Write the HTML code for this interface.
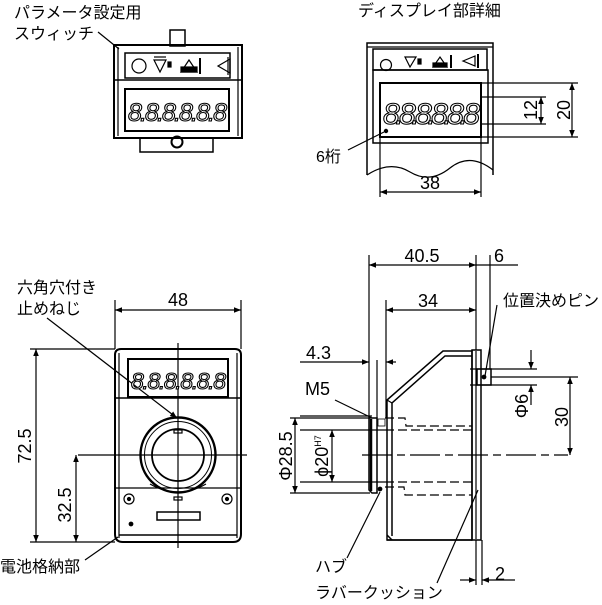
<!DOCTYPE html>
<html><head><meta charset="utf-8"><style>
html,body{margin:0;padding:0;background:#fff;}
svg{display:block;}
text{font-family:"Liberation Sans","Noto Sans CJK JP",sans-serif;fill:#000;}
.j{font-size:16px;}
.n{font-size:18px;}
.dg{font-size:25px;font-style:italic;font-family:"Liberation Sans",sans-serif;fill:#fff;stroke:#000;stroke-width:1.1;letter-spacing:-1px;}
</style></head><body>
<svg width="602" height="605" viewBox="0 0 602 605" xmlns="http://www.w3.org/2000/svg">
<defs>
<marker id="a" viewBox="0 0 10 10" refX="10" refY="5" markerWidth="9" markerHeight="7" orient="auto-start-reverse" markerUnits="userSpaceOnUse"><path d="M0,1 L10,5 L0,9 z" fill="#000"/></marker>
</defs>
<g fill="none" stroke="#000" stroke-width="1.2">

<!-- ===== Top-left view ===== -->
<rect x="170" y="30" width="15" height="16" stroke-width="1.5"/>
<rect x="114" y="45" width="128" height="93" stroke-width="2"/>
<line x1="118" y1="47" x2="118" y2="136"/><line x1="238" y1="47" x2="238" y2="136"/>
<rect x="125" y="53" width="105" height="25" stroke-width="1.5"/>
<line x1="114" y1="80" x2="242" y2="80" stroke-width="1.5"/>
<rect x="125" y="89" width="104" height="42" stroke-width="2"/>
<rect x="140" y="138" width="73" height="14" stroke-width="1.5"/>
<circle cx="177" cy="142" r="5.5" stroke-width="2"/>
<circle cx="139" cy="66" r="7"/>
<path d="M154,60 L166,60 L160,72 z"/><line x1="154" y1="57" x2="166" y2="57"/><rect x="168" y="62" width="3" height="5" fill="#000"/>
<path d="M181,72 L197,72 L189,60 z"/><rect x="181" y="67" width="16" height="5" fill="#000"/><line x1="200" y1="58" x2="200" y2="74" stroke-width="2"/>
<path d="M218,66 L230,59 L230,73 z"/><line x1="228" y1="57" x2="228" y2="75"/>
<line x1="98" y1="32" x2="119" y2="49"/>

<!-- ===== Top-right view ===== -->
<path d="M367,175 L367,43 L493,43 L493,175" stroke-width="1.5"/>
<path d="M367,175 Q390,160 410,172 T450,168 T493,170" />
<line x1="367" y1="47" x2="493" y2="47"/>
<rect x="373" y="49" width="114" height="21" stroke-width="1.5"/>
<path d="M373,70 L373,143 L488,143 L488,70 Z" stroke-width="1.5"/>
<rect x="380" y="83" width="101" height="54" stroke-width="2"/>
<circle cx="386" cy="65" r="5.5"/>
<path d="M405,57 L416,57 L410,67 z"/><rect x="418" y="59" width="3" height="5" fill="#000"/>
<path d="M433,67 L447,67 L440,57 z"/><rect x="433" y="63" width="14" height="4" fill="#000"/><line x1="451" y1="55" x2="451" y2="68" stroke-width="2"/>
<path d="M463,61 L475,56 L475,66 z"/><line x1="478" y1="54" x2="478" y2="68" stroke-width="2"/>
<circle cx="386" cy="131" r="1.6" fill="#000"/>
<line x1="481" y1="97" x2="546" y2="97"/><line x1="481" y1="124" x2="546" y2="124"/>
<line x1="541" y1="97" x2="541" y2="124" marker-start="url(#a)" marker-end="url(#a)"/>
<line x1="481" y1="83" x2="578" y2="83"/><line x1="481" y1="137" x2="578" y2="137"/>
<line x1="572" y1="83" x2="572" y2="137" marker-start="url(#a)" marker-end="url(#a)"/>
<line x1="380" y1="137" x2="380" y2="197"/><line x1="481" y1="137" x2="481" y2="197"/>
<line x1="380" y1="192" x2="481" y2="192" marker-start="url(#a)" marker-end="url(#a)"/>
<line x1="348" y1="150" x2="384" y2="132"/>

<!-- ===== Bottom-left view ===== -->
<path d="M121,349 L235,349 Q241,349 241,355 L241,534 Q241,542 233,542 L123,542 Q115,542 115,534 L115,355 Q115,349 121,349 Z" stroke-width="2"/>
<line x1="119" y1="353" x2="119" y2="538"/><line x1="237" y1="353" x2="237" y2="538"/>
<rect x="128" y="359" width="100" height="38" stroke-width="2"/>
<line x1="115" y1="398" x2="241" y2="398" stroke-width="1.5"/>
<line x1="115" y1="488" x2="241" y2="488"/>
<line x1="119" y1="535" x2="237" y2="535" stroke-width="1.5"/>
<circle cx="178" cy="455" r="37.5" stroke-width="2.4"/>
<circle cx="178" cy="455" r="33.5" stroke-width="1"/>
<circle cx="178" cy="455" r="26" stroke-width="1.8"/>
<rect x="174" y="430" width="8" height="3"/>
<path d="M150,484 Q178,500 206,484"/>
<rect x="174" y="497" width="8" height="3"/>
<circle cx="129" cy="499" r="5"/><circle cx="129" cy="499" r="1.5" fill="#000"/>
<circle cx="227" cy="499" r="5"/><circle cx="227" cy="499" r="1.5" fill="#000"/>
<rect x="157" y="512" width="43" height="8" stroke-width="1.5"/>
<circle cx="131" cy="524" r="1.8" fill="#000"/>
<line x1="178" y1="343" x2="178" y2="548"/>
<line x1="78" y1="455" x2="247" y2="455"/>
<line x1="115" y1="300" x2="115" y2="349"/><line x1="241" y1="300" x2="241" y2="349"/>
<line x1="115" y1="310" x2="241" y2="310" marker-start="url(#a)" marker-end="url(#a)"/>
<line x1="30" y1="349" x2="115" y2="349"/><line x1="30" y1="542" x2="115" y2="542"/>
<line x1="36" y1="349" x2="36" y2="542" marker-start="url(#a)" marker-end="url(#a)"/>
<line x1="76" y1="455" x2="76" y2="542" marker-start="url(#a)" marker-end="url(#a)"/>
<line x1="47" y1="318" x2="177" y2="418" marker-end="url(#a)"/>
<line x1="85" y1="560" x2="118" y2="537"/>

<!-- ===== Bottom-right view ===== -->
<path d="M369,418 L377,418 L377,493 L372,493 L369,490 Z" stroke-width="1.5"/>
<line x1="371" y1="419" x2="371" y2="491" stroke-width="2.5"/>
<rect x="378" y="419" width="7" height="7" stroke-width="0.8"/>
<circle cx="380" cy="489" r="1.8" fill="#000"/>
<path d="M387,540 L387,400 L443,351 L472,351 L472,540 Z" stroke-width="1.5"/>
<path d="M392,536 L392,403 L445,356 L472,356" stroke-width="1.5"/>
<line x1="387" y1="535" x2="392" y2="540" stroke-width="1.5"/>
<line x1="387" y1="400" x2="392" y2="403"/>
<line x1="387" y1="540" x2="472" y2="540" stroke-width="1.5"/>
<rect x="472" y="350" width="9" height="190" stroke-width="1.5"/>
<line x1="476" y1="351" x2="476" y2="539"/>
<rect x="477" y="369" width="14" height="16" stroke-width="1.5"/>
<circle cx="484" cy="377" r="1.8" fill="#000"/>
<g stroke-dasharray="9,4">
<path d="M385,418 L405,418 L406,426 L472,426"/>
<line x1="385" y1="430" x2="472" y2="430"/>
<line x1="385" y1="482" x2="472" y2="482"/>
<path d="M385,487 L404,487 L405,495 L472,495"/>
</g>
<line x1="362" y1="455" x2="568" y2="455" stroke-dasharray="30,5,8,5"/>
<line x1="369" y1="255" x2="369" y2="418"/>
<line x1="476" y1="255" x2="476" y2="350"/>
<line x1="490" y1="255" x2="490" y2="369"/>
<line x1="369" y1="265" x2="476" y2="265" marker-start="url(#a)" marker-end="url(#a)"/>
<line x1="476" y1="265" x2="518" y2="265"/>
<line x1="386" y1="300" x2="386" y2="418"/>
<line x1="386" y1="310" x2="476" y2="310" marker-start="url(#a)" marker-end="url(#a)"/>
<line x1="300" y1="362" x2="369" y2="362" marker-end="url(#a)"/>
<line x1="396" y1="362" x2="386" y2="362" marker-end="url(#a)"/>
<line x1="377" y1="360" x2="377" y2="418"/>
<line x1="300" y1="416" x2="372" y2="416"/>
<line x1="335" y1="400" x2="372" y2="418"/>
<line x1="290" y1="418" x2="369" y2="418"/><line x1="290" y1="493" x2="370" y2="493"/>
<line x1="295" y1="418" x2="295" y2="493" marker-start="url(#a)" marker-end="url(#a)"/>
<line x1="300" y1="430" x2="385" y2="430"/><line x1="300" y1="482" x2="385" y2="482"/>
<line x1="332" y1="430" x2="332" y2="482" marker-start="url(#a)" marker-end="url(#a)"/>
<line x1="470" y1="369" x2="537" y2="369"/><line x1="470" y1="385" x2="537" y2="385"/>
<line x1="531" y1="350" x2="531" y2="369" marker-end="url(#a)"/>
<line x1="531" y1="405" x2="531" y2="385" marker-end="url(#a)"/>
<line x1="491" y1="377" x2="578" y2="377"/>
<line x1="570" y1="377" x2="570" y2="455" marker-start="url(#a)" marker-end="url(#a)"/>
<line x1="476" y1="540" x2="476" y2="585"/><line x1="482" y1="540" x2="482" y2="585"/>
<line x1="460" y1="580" x2="476" y2="580" marker-end="url(#a)"/>
<line x1="515" y1="580" x2="482" y2="580" marker-end="url(#a)"/>
<line x1="497" y1="305" x2="485" y2="376"/>
<line x1="347" y1="558" x2="380" y2="492"/>
<line x1="437" y1="583" x2="478" y2="490"/>
</g>

<text class="dg" x="128" y="121" textLength="98">8.8.8.8.8.8</text>
<text class="dg" x="383" y="124" textLength="96" style="font-size:30px">8.8.8.8.8.8</text>
<text class="dg" x="131" y="389" textLength="94" style="font-size:23px">8.8.8.8.8.8</text>

<text class="j" x="14" y="18">パラメータ設定用</text>
<text class="j" x="14" y="39">スウィッチ</text>
<text class="j" x="358" y="16">ディスプレイ部詳細</text>
<text class="j" x="316" y="162">6桁</text>
<text class="n" x="430" y="189" text-anchor="middle">38</text>
<text class="n" transform="translate(537,110) rotate(-90)" text-anchor="middle">12</text>
<text class="n" transform="translate(570,110) rotate(-90)" text-anchor="middle">20</text>
<text class="j" x="17" y="293">六角穴付き</text>
<text class="j" x="17" y="314">止めねじ</text>
<text class="n" x="178" y="306" text-anchor="middle">48</text>
<text class="n" transform="translate(31,446) rotate(-90)" text-anchor="middle">72.5</text>
<text class="n" transform="translate(71,505) rotate(-90)" text-anchor="middle">32.5</text>
<text class="j" x="0" y="572">電池格納部</text>
<text class="n" x="422" y="262" text-anchor="middle">40.5</text>
<text class="n" x="499" y="262" text-anchor="middle">6</text>
<text class="n" x="428" y="307" text-anchor="middle">34</text>
<text class="n" x="306" y="359">4.3</text>
<text class="n" x="305" y="395">M5</text>
<text class="j" x="503" y="306">位置決めピン</text>
<text class="n" transform="translate(292,456) rotate(-90)" text-anchor="middle">Φ28.5</text>
<text class="n" transform="translate(328,456) rotate(-90)" text-anchor="middle">ϕ20<tspan font-size="9" dy="-7">H7</tspan></text>
<text class="n" transform="translate(528,406) rotate(-90)" text-anchor="middle">Φ6</text>
<text class="n" transform="translate(568,417) rotate(-90)" text-anchor="middle">30</text>
<text class="n" x="500" y="580" text-anchor="middle">2</text>
<text class="j" x="315" y="572">ハブ</text>
<text class="j" x="315" y="598">ラバークッション</text>
</svg>
</body></html>
